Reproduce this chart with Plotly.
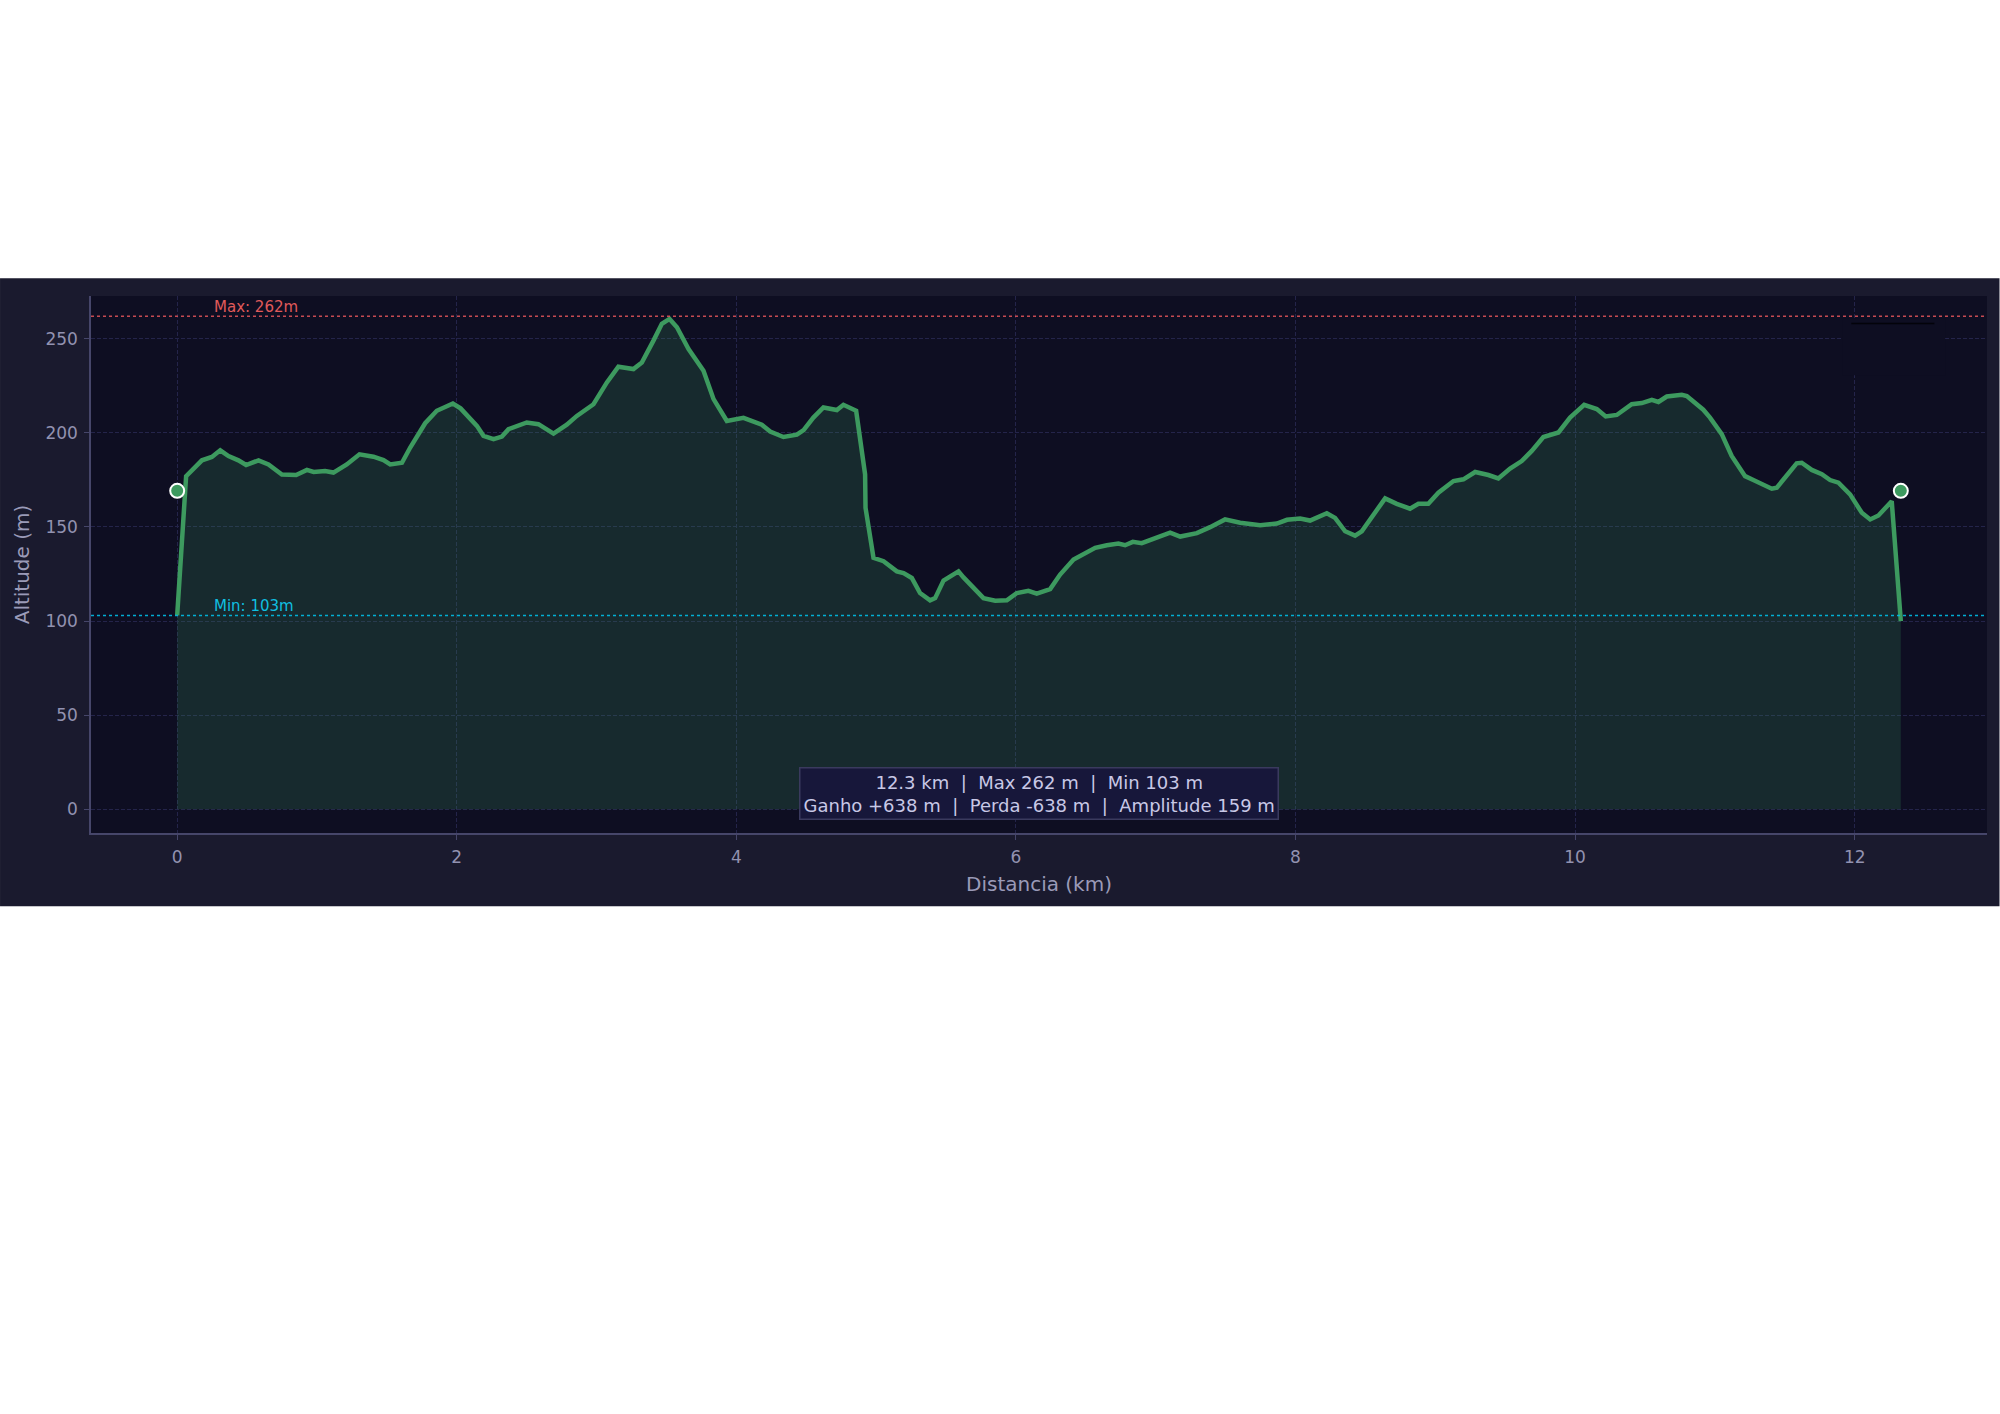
import plotly.graph_objects as go

# ---- data ----
distance_km = [0.0, 0.064, 0.177, 0.248, 0.308, 0.367, 0.438, 0.493, 0.582, 0.653,
               0.749, 0.851, 0.928, 0.976, 1.058, 1.118, 1.213, 1.304, 1.404, 1.476,
               1.524, 1.608, 1.667, 1.774, 1.857, 1.972, 2.027, 2.096, 2.144, 2.191,
               2.263, 2.323, 2.370, 2.501, 2.584, 2.692, 2.787, 2.859, 2.978, 3.074,
               3.156, 3.264, 3.324, 3.407, 3.467, 3.522, 3.575, 3.658, 3.765, 3.837,
               3.932, 4.051, 4.182, 4.242, 4.337, 4.433, 4.481, 4.551, 4.623, 4.719,
               4.766, 4.857, 4.921, 4.924, 4.981, 5.053, 5.148, 5.196, 5.255, 5.314,
               5.386, 5.422, 5.482, 5.589, 5.625, 5.768, 5.852, 5.935, 6.006, 6.089,
               6.149, 6.245, 6.316, 6.412, 6.567, 6.650, 6.733, 6.781, 6.836, 6.900,
               7.008, 7.103, 7.175, 7.294, 7.389, 7.496, 7.604, 7.747, 7.867, 7.939,
               8.033, 8.104, 8.224, 8.283, 8.355, 8.426, 8.474, 8.558, 8.641, 8.724,
               8.819, 8.879, 8.950, 9.022, 9.130, 9.201, 9.285, 9.380, 9.451, 9.535,
               9.618, 9.690, 9.773, 9.881, 9.964, 10.065, 10.155, 10.219, 10.298, 10.405,
               10.477, 10.549, 10.596, 10.656, 10.763, 10.799, 10.881, 10.917, 10.965, 11.049,
               11.120, 11.216, 11.275, 11.347, 11.407, 11.443, 11.515, 11.585, 11.621, 11.693,
               11.765, 11.824, 11.884, 11.967, 12.051, 12.111, 12.170, 12.265, 12.33]
altitude_m = [103.0, 177.0, 185.4, 187.2, 190.7, 187.7, 185.4, 182.9, 185.4, 183.2,
              177.9, 177.6, 180.3, 179.2, 179.7, 178.9, 183.2, 188.6, 187.3, 185.5,
              183.2, 184.1, 192.2, 205.1, 211.7, 215.6, 213.0, 207.5, 203.7, 198.4,
              196.6, 198.0, 201.9, 205.5, 204.6, 199.6, 204.3, 209.0, 215.2, 226.8,
              235.1, 233.9, 237.4, 249.0, 257.9, 260.5, 256.1, 244.5, 233.0, 217.9,
              206.3, 208.0, 204.3, 200.7, 197.8, 199.0, 201.4, 208.1, 213.5, 212.1,
              214.9, 211.7, 177.9, 160.2, 133.6, 131.8, 126.4, 125.5, 122.9, 114.9,
              111.0, 112.2, 121.5, 126.4, 123.2, 112.2, 110.8, 111.0, 114.9, 116.1,
              114.6, 117.0, 124.7, 132.7, 138.9, 140.3, 141.2, 140.3, 142.1, 141.4,
              144.5, 147.0, 144.9, 146.7, 149.9, 154.0, 152.2, 150.9, 151.8, 153.8,
              154.5, 153.4, 157.3, 154.8, 147.7, 145.4, 147.7, 156.6, 165.2, 162.3,
              159.7, 162.3, 162.3, 168.2, 174.4, 175.3, 179.2, 177.6, 175.8, 181.0,
              185.0, 190.4, 197.8, 200.2, 208.1, 214.9, 212.6, 208.7, 209.5, 215.2,
              215.8, 217.5, 216.4, 219.3, 220.2, 219.5, 214.0, 212.3, 208.1, 199.3,
              187.7, 177.0, 174.9, 172.6, 170.3, 170.9, 177.0, 183.8, 184.1, 180.3,
              178.0, 174.9, 173.5, 167.3, 157.5, 154.0, 156.1, 163.7, 100.0]
endpoint_km = [0.0, 12.33]
endpoint_alt = [169.2, 169.2]
max_alt = 262
min_alt = 103
max_label = "Max: 262m"
min_label = "Min: 103m"
stats_line1 = "12.3 km  |  Max 262 m  |  Min 103 m"
stats_line2 = "Ganho +638 m  |  Perda -638 m  |  Amplitude 159 m"
x_ticks = [0, 2, 4, 6, 8, 10, 12]
y_ticks = [0, 50, 100, 150, 200, 250]
x_title = "Distancia (km)"
y_title = "Altitude (m)"

# ---- styling ----
BAND_BG = "#1a1a2e"
PLOT_BG = "#0e0e22"
LINE_C = "#3d9a5f"
GRID_C = "#24244a"
SPINE_C = "#46466a"
TICK_C = "#9292b0"
FONT = "DejaVu Sans"

W, H = 2000, 1414
L, R, T, B = 91, 1987.5, 295.7, 832.7
pw, ph = R - L, B - T
band_top, band_bot = 278, 906


def nb(s):
    return s.replace(" ", "\u00a0")


fig = go.Figure()
fig.add_trace(go.Scatter(
    x=distance_km, y=altitude_m, mode="lines", fill="tozeroy",
    fillcolor="rgba(61,154,95,0.2)",
    line=dict(color=LINE_C, width=4.5), hoverinfo="skip"))
fig.add_trace(go.Scatter(
    x=endpoint_km, y=endpoint_alt, mode="markers",
    marker=dict(size=14, color=LINE_C, line=dict(color="white", width=2)),
    hoverinfo="skip"))

shapes = [
    # dark band behind the whole chart
    dict(type="rect", xref="paper", yref="paper", layer="below",
         x0=-L / pw, x1=(W - L) / pw,
         y0=(B - band_bot) / ph, y1=(B - band_top) / ph,
         fillcolor=BAND_BG, line=dict(width=0)),
    # plot area background
    dict(type="rect", xref="paper", yref="paper", layer="below",
         x0=0, x1=1, y0=0, y1=1, fillcolor=PLOT_BG, line=dict(width=0)),
    # empty legend box (top right)
    dict(type="rect", xref="x", yref="y", layer="between",
         x0=11.91, x1=12.647, y0=230.6, y1=260.9,
         fillcolor=PLOT_BG, line=dict(width=0)),
    dict(type="line", xref="x", yref="y", layer="between",
         x0=11.976, x1=12.57, y0=258.1, y1=258.1,
         line=dict(color="#03030a", width=1.5)),
    # max / min reference lines
    dict(type="line", xref="paper", yref="y", layer="above",
         x0=0, x1=1, y0=max_alt, y1=max_alt,
         line=dict(color="rgba(230,85,90,0.85)", width=1.5, dash="dot")),
    dict(type="line", xref="paper", yref="y", layer="above",
         x0=0, x1=1, y0=min_alt, y1=min_alt,
         line=dict(color="rgba(0,190,230,0.9)", width=1.5, dash="dot")),
]

annotations = [
    dict(x=0.25, y=max_alt, xref="x", yref="y", text=max_label, showarrow=False,
         xanchor="left", yanchor="bottom", yshift=-2,
         font=dict(family=FONT, size=15, color="#e05a5a")),
    dict(x=0.25, y=min_alt, xref="x", yref="y", text=min_label, showarrow=False,
         xanchor="left", yanchor="bottom", yshift=-2,
         font=dict(family=FONT, size=15, color="#10bfe0")),
    dict(x=0.5, y=(B - 793) / ph, xref="paper", yref="paper",
         text=nb(stats_line1) + "<br>" + nb(stats_line2), showarrow=False,
         xanchor="center", yanchor="middle", align="center",
         bgcolor="#17173a", bordercolor="#3a3a5e", borderwidth=1.5, borderpad=3,
         font=dict(family=FONT, size=18, color="#c8c8e6")),
]

axis_common = dict(
    showgrid=True, gridcolor=GRID_C, gridwidth=1, griddash="4px,2px",
    showline=True, linecolor=SPINE_C, linewidth=1.5, mirror=False,
    ticks="outside", ticklen=5, tickwidth=1.2, tickcolor=SPINE_C,
    tickfont=dict(family=FONT, size=17, color=TICK_C),
    ticklabelstandoff=3,
    zeroline=False,
)

fig.update_layout(
    width=W, height=H,
    margin=dict(l=L, r=W - R, t=T, b=H - B, pad=0),
    paper_bgcolor="white", plot_bgcolor="rgba(0,0,0,0)",
    showlegend=False, hovermode=False,
    shapes=shapes, annotations=annotations,
    xaxis=dict(range=[-0.6165, 12.9465], tickvals=x_ticks,
               title=dict(text=x_title, standoff=11,
                          font=dict(family=FONT, size=20, color="#9a9ab8")),
               **axis_common),
    yaxis=dict(range=[-12.6, 272.7], tickvals=y_ticks,
               title=dict(text=y_title, standoff=10,
                          font=dict(family=FONT, size=20, color="#9a9ab8")),
               **axis_common),
)

fig.write_html("out.html")
